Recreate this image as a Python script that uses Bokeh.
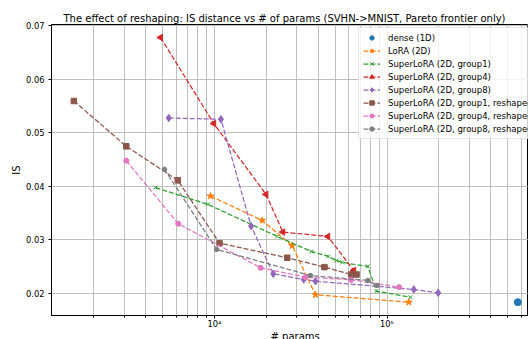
import numpy as np
from bokeh.plotting import figure
from bokeh.models import (Legend, LegendItem, FixedTicker, PrintfTickFormatter,
                          Title, Range1d)
from bokeh.embed import file_html
from bokeh.resources import INLINE

FONT = "DejaVu Sans"

# IS distance against trainable parameter count, Pareto-optimal runs only
dense_params = [573000]
dense_is = [0.01837]

lora_params = [9480, 18900, 28200, 38500, 133800]
lora_is = [0.03819, 0.03364, 0.02892, 0.01976, 0.01837]

g1_params = [4550, 9150, 23100, 36400, 45600, 50800, 55000, 77400, 86900, 136800]
g1_is = [0.03976, 0.03664, 0.03065, 0.02785, 0.02692, 0.02617, 0.02579, 0.02505, 0.02043, 0.01931]

g4_params = [4870, 9910, 19900, 24900, 45400, 64200]
g4_is = [0.06779, 0.05172, 0.03850, 0.03146, 0.03065, 0.02430]

g8_params = [5430, 10900, 16300, 21900, 32900, 38500, 143000, 198000]
g8_is = [0.05277, 0.05252, 0.03258, 0.02368, 0.02262, 0.02230, 0.02075, 0.02013]

g1r_params = [1530, 3080, 6130, 10700, 26400, 43400, 62000, 66600]
g1r_is = [0.05594, 0.04748, 0.04112, 0.02940, 0.02667, 0.02492, 0.02355, 0.02355]

g4r_params = [3080, 6160, 18500, 33700, 62000, 117700]
g4r_is = [0.04480, 0.03303, 0.02480, 0.02305, 0.02256, 0.02118]

g8r_params = [5130, 10300, 36000, 77400, 87700]
g8r_is = [0.04318, 0.02822, 0.02336, 0.02243, 0.02150]

y_ticks = [0.02, 0.03, 0.04, 0.05, 0.06, 0.07]
x_major = [1e4, 1e5]
x_labels = {10000: "10\u2074", 100000: "10\u2075"}

p = figure(width=528, height=339, x_axis_type="log",
           x_range=Range1d(1135.6, 661000), y_range=Range1d(0.01589, 0.07022),
           output_backend="svg", toolbar_location=None, title=None,
           min_border_left=51, min_border_right=0,
           min_border_top=24, min_border_bottom=24)
p.background_fill_color = "white"
p.border_fill_color = "white"
p.outline_line_color = "black"
p.outline_line_width = 1

# axes
p.xaxis.ticker = FixedTicker(ticks=x_major,
                             minor_ticks=[m * 10 ** e for e in (3, 4, 5) for m in range(2, 10)])
p.xaxis.major_label_overrides = x_labels
p.yaxis.ticker = FixedTicker(ticks=y_ticks, minor_ticks=[])
p.yaxis.formatter = PrintfTickFormatter(format="%.2f")
for ax in (p.xaxis[0], p.yaxis[0]):
    ax.major_label_text_font = FONT
    ax.major_label_text_font_size = "8.3px"
    ax.major_label_text_color = "black"
    ax.axis_line_color = "black"
    ax.major_tick_line_color = "black"
    ax.minor_tick_line_color = "black"
    ax.major_tick_in = 0
    ax.major_tick_out = 3
    ax.minor_tick_in = 0
    ax.minor_tick_out = 2
p.xaxis.major_label_standoff = 0
p.yaxis.major_label_standoff = 4
p.yaxis.axis_label = "IS"
p.yaxis.axis_label_text_font = FONT
p.yaxis.axis_label_text_font_size = "10px"
p.yaxis.axis_label_text_font_style = "normal"
p.yaxis.axis_label_text_color = "black"
p.yaxis.axis_label_standoff = 1

p.xgrid.grid_line_color = "#b0b0b0"
p.xgrid.grid_line_width = 0.8
p.xgrid.minor_grid_line_color = "#b0b0b0"
p.xgrid.minor_grid_line_width = 0.8
p.ygrid.grid_line_color = "#b0b0b0"
p.ygrid.grid_line_width = 0.8

DASH = "5 2"
LW = 1.25

def series(xs, ys, color, marker, size, angle=0.0):
    ln = p.line(xs, ys, line_color=color, line_width=LW, line_dash=DASH)
    sc = p.scatter(xs, ys, marker=marker, size=size, angle=angle,
                   fill_color=color, line_color=color, line_width=1)
    return [ln, sc]

r_dense = [p.scatter(dense_params, dense_is, marker="circle", size=7,
                     fill_color="#1f77b4", line_color="#1f77b4")]
r_lora = series(lora_params, lora_is, "#ff7f0e", "star", 7)
r_g1 = series(g1_params, g1_is, "#2ca02c", "x", 5.5)
r_g4 = series(g4_params, g4_is, "#d62728", "triangle", 6.5, angle=np.pi / 2)
r_g8 = series(g8_params, g8_is, "#9467bd", "diamond", 7.5)
r_g1r = series(g1r_params, g1r_is, "#8c564b", "square", 5.5)
r_g4r = series(g4r_params, g4r_is, "#e377c2", "hex", 5.5)
r_g8r = series(g8r_params, g8r_is, "#7f7f7f", "circle", 4.5)

legend = Legend(items=[
    LegendItem(label="dense (1D)", renderers=r_dense),
    LegendItem(label="LoRA (2D)", renderers=r_lora),
    LegendItem(label="SuperLoRA (2D, group1)", renderers=r_g1),
    LegendItem(label="SuperLoRA (2D, group4)", renderers=r_g4),
    LegendItem(label="SuperLoRA (2D, group8)", renderers=r_g8),
    LegendItem(label="SuperLoRA (2D, group1, reshaped)", renderers=r_g1r),
    LegendItem(label="SuperLoRA (2D, group4, reshaped)", renderers=r_g4r),
    LegendItem(label="SuperLoRA (2D, group8, reshaped)", renderers=r_g8r),
], location=(307, 176))
legend.label_text_font = FONT
legend.label_text_font_size = "8.5px"
legend.label_text_color = "black"
legend.glyph_width = 17
legend.glyph_height = 11
legend.label_height = 11
legend.spacing = 2
legend.padding = 4
legend.margin = 0
legend.label_standoff = 8
legend.border_line_color = "#cccccc"
legend.border_line_width = 1
legend.background_fill_alpha = 0.8
p.add_layout(legend)

p.add_layout(Title(text="The effect of reshaping: IS distance vs # of params (SVHN->MNIST, Pareto frontier only)",
                   text_font=FONT, text_font_size="10px", text_font_style="normal",
                   text_color="black", align="left", offset=12, standoff=2), "above")
p.add_layout(Title(text="# params", text_font=FONT, text_font_size="10px",
                   text_font_style="normal", text_color="black",
                   align="left", offset=219, standoff=-6), "below")

open("out.html", "w").write(file_html(p, INLINE))
